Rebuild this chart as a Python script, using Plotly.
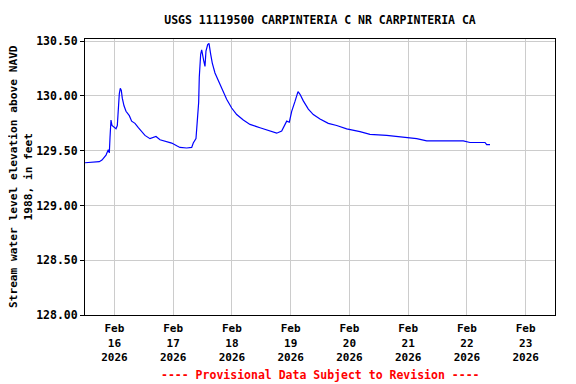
import plotly.graph_objects as go

times = [
    "2026-02-15 12:00", "2026-02-15 17:50", "2026-02-15 18:56", "2026-02-15 20:35",
    "2026-02-15 21:31", "2026-02-15 21:56", "2026-02-15 22:13", "2026-02-15 22:37",
    "2026-02-15 23:02", "2026-02-15 23:34", "2026-02-16 00:40", "2026-02-16 01:12",
    "2026-02-16 01:36", "2026-02-16 02:01", "2026-02-16 02:25", "2026-02-16 02:50",
    "2026-02-16 03:14", "2026-02-16 03:56", "2026-02-16 04:45", "2026-02-16 06:06",
    "2026-02-16 07:04", "2026-02-16 08:25", "2026-02-16 09:47", "2026-02-16 11:10",
    "2026-02-16 12:30", "2026-02-16 14:33", "2026-02-16 17:00", "2026-02-16 18:38",
    "2026-02-16 21:22", "2026-02-16 23:25", "2026-02-17 01:28", "2026-02-17 02:48",
    "2026-02-17 05:32", "2026-02-17 07:35", "2026-02-17 08:14", "2026-02-17 09:20",
    "2026-02-17 09:52", "2026-02-17 10:26", "2026-02-17 10:41", "2026-02-17 11:15",
    "2026-02-17 11:40", "2026-02-17 12:04", "2026-02-17 12:36", "2026-02-17 13:01",
    "2026-02-17 13:25", "2026-02-17 14:07", "2026-02-17 14:39", "2026-02-17 15:21",
    "2026-02-17 16:00", "2026-02-17 17:06", "2026-02-17 18:27", "2026-02-17 19:50",
    "2026-02-17 21:52", "2026-02-17 23:55", "2026-02-18 01:58", "2026-02-18 04:40",
    "2026-02-18 07:24", "2026-02-18 11:29", "2026-02-18 15:34", "2026-02-18 18:18",
    "2026-02-18 20:21", "2026-02-18 22:24", "2026-02-18 23:28", "2026-02-19 00:26",
    "2026-02-19 01:47", "2026-02-19 03:01", "2026-02-19 03:50", "2026-02-19 05:11",
    "2026-02-19 07:14", "2026-02-19 09:16", "2026-02-19 12:00", "2026-02-19 15:23",
    "2026-02-19 18:49", "2026-02-19 22:54", "2026-02-20 04:20", "2026-02-20 08:25",
    "2026-02-20 15:14", "2026-02-20 22:02", "2026-02-21 03:30", "2026-02-21 07:35",
    "2026-02-21 22:32", "2026-02-22 01:16", "2026-02-22 07:24", "2026-02-22 08:06",
    "2026-02-22 09:26",
]
levels = [
    129.39, 129.40, 129.415, 129.46,
    129.51, 129.48, 129.62, 129.78,
    129.73, 129.72, 129.70, 129.73,
    129.91, 130.02, 130.07, 130.05,
    129.98, 129.91, 129.86, 129.82,
    129.77, 129.75, 129.71, 129.67,
    129.64, 129.61, 129.63, 129.60,
    129.585, 129.57, 129.545, 129.53,
    129.525, 129.53, 129.57, 129.61,
    129.77, 129.94, 130.17, 130.38,
    130.42, 130.36, 130.31, 130.27,
    130.41, 130.47, 130.48, 130.38,
    130.30, 130.21, 130.14, 130.06,
    129.97, 129.89, 129.83, 129.78,
    129.74, 129.71, 129.68, 129.66,
    129.68, 129.77, 129.76, 129.86,
    129.95, 130.04, 130.015, 129.955,
    129.88, 129.83, 129.79, 129.75,
    129.73, 129.70, 129.675, 129.65,
    129.64, 129.62, 129.61, 129.59,
    129.59, 129.575, 129.575, 129.555,
    129.555,
]

tick_dates = ["2026-02-16", "2026-02-17", "2026-02-18", "2026-02-19",
              "2026-02-20", "2026-02-21", "2026-02-22", "2026-02-23"]
tick_labels = ["Feb<br>16<br>2026", "Feb<br>17<br>2026", "Feb<br>18<br>2026", "Feb<br>19<br>2026",
               "Feb<br>20<br>2026", "Feb<br>21<br>2026", "Feb<br>22<br>2026", "Feb<br>23<br>2026"]
y_ticks = [128.0, 128.5, 129.0, 129.5, 130.0, 130.5]
y_labels = ["128.00", "128.50", "129.00", "129.50", "130.00", "130.50"]

font_family = "DejaVu Sans Mono"
fs = 11.5
off = 8  # page body margin offset

fig = go.Figure()
fig.add_trace(go.Scatter(x=times, y=levels, mode="lines",
                         line=dict(color="#0000ff", width=1.2), showlegend=False))

fig.update_layout(
    width=576, height=384,
    margin=dict(l=85 - off, r=21 + off, t=39 - off, b=69 + off, autoexpand=False),
    paper_bgcolor="white", plot_bgcolor="white",
    font=dict(family=font_family, size=fs, color="black", weight="bold"),
    title=dict(text="USGS 11119500 CARPINTERIA C NR CARPINTERIA CA",
               x=0.5, xref="paper", xanchor="center", y=1 - (20 - off) / 384, yanchor="middle",
               font=dict(family=font_family, size=fs, weight="bold")),
    xaxis=dict(range=["2026-02-15 12:00", "2026-02-23 12:00"],
               tickvals=tick_dates, ticktext=tick_labels,
               showgrid=True, gridcolor="#cccccc", gridwidth=1,
               showline=True, linecolor="black", linewidth=1, mirror=True,
               ticks="", ticklabelstandoff=3,
               tickfont=dict(size=11, family=font_family, weight="bold"),
               zeroline=False, automargin=False),
    yaxis=dict(range=[128.0, 130.52],
               tickvals=y_ticks, ticktext=y_labels,
               showgrid=True, gridcolor="#cccccc", gridwidth=1,
               showline=True, linecolor="black", linewidth=1, mirror=True,
               ticks="outside", ticklen=4, tickcolor="black",
               tickfont=dict(size=fs, family=font_family, weight="bold"),
               zeroline=False, automargin=False),
    annotations=[
        dict(text="Stream water level elevation above NAVD<br>1988, in feet",
             xref="paper", yref="paper", x=-0.136, y=0.5,
             xanchor="center", yanchor="middle", textangle=-90, showarrow=False,
             font=dict(size=11.2, family=font_family, weight="bold")),
        dict(text="---- Provisional Data Subject to Revision ----",
             xref="paper", yref="paper", x=0.5, y=-(375 - 315) / 276,
             xanchor="center", yanchor="middle", showarrow=False,
             font=dict(color="red", size=fs, family=font_family, weight="bold")),
    ],
)

fig.write_html("out.html")
